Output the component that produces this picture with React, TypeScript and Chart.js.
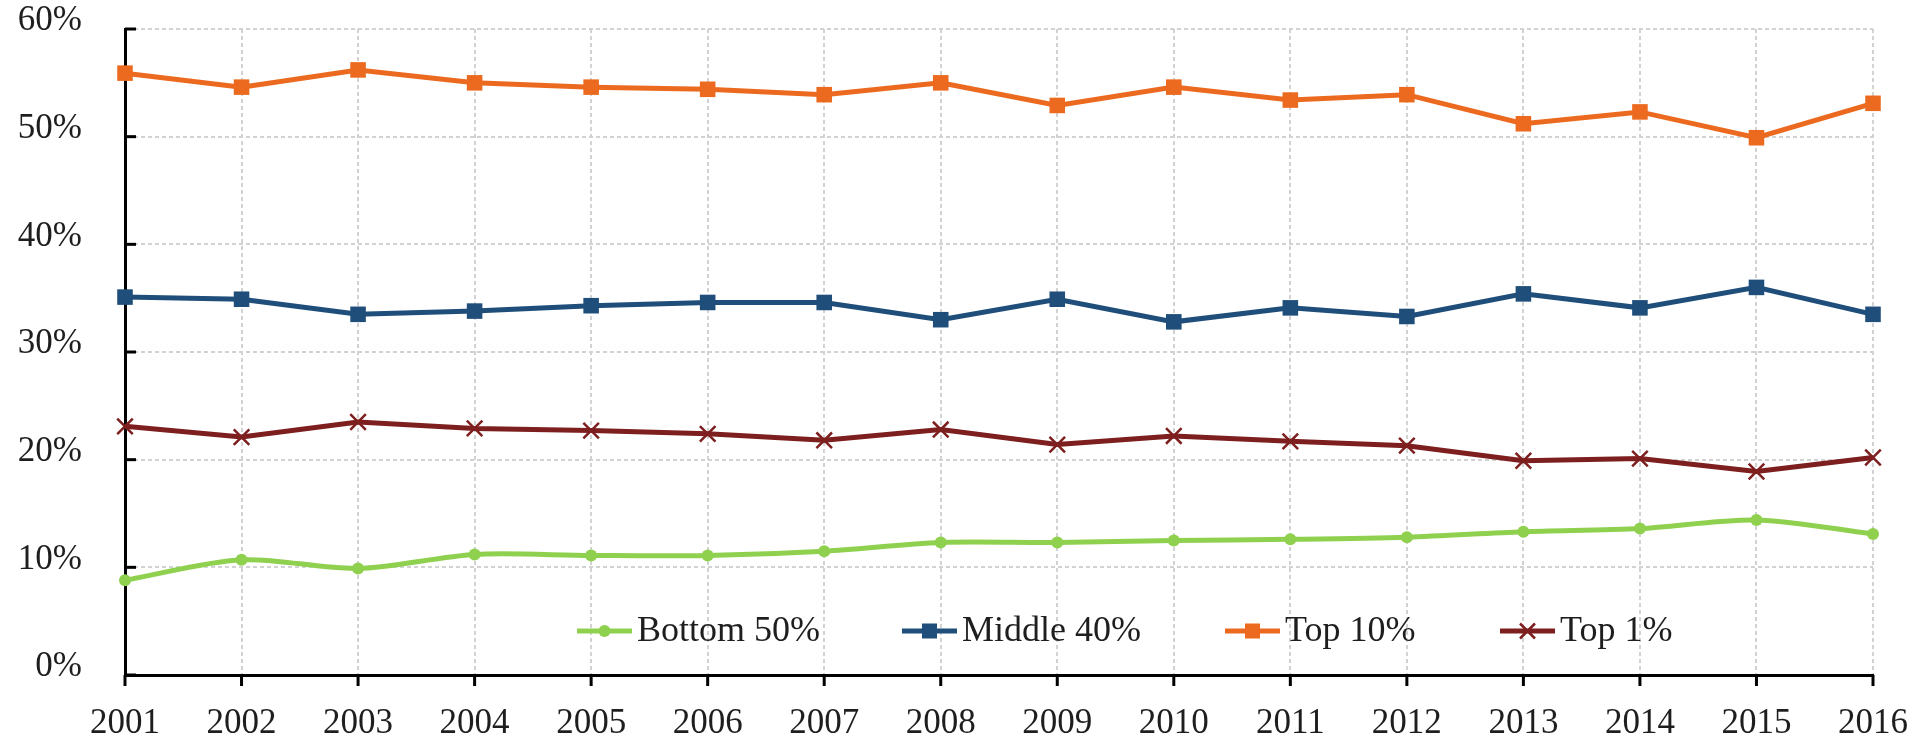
import React, { useEffect, useRef } from "react";
import { Chart, registerables } from "chart.js";

Chart.register(...registerables);

const years = ["2001", "2002", "2003", "2004", "2005", "2006", "2007", "2008", "2009", "2010", "2011", "2012", "2013", "2014", "2015", "2016"];
const bottom50 = [8.8, 10.7, 9.9, 11.2, 11.1, 11.1, 11.5, 12.3, 12.3, 12.5, 12.6, 12.8, 13.3, 13.6, 14.4, 13.1];
const middle40 = [35.1, 34.9, 33.5, 33.8, 34.3, 34.6, 34.6, 33.0, 34.9, 32.8, 34.1, 33.3, 35.4, 34.1, 36.0, 33.5];
const top10 = [55.9, 54.6, 56.2, 55.0, 54.6, 54.4, 53.9, 55.0, 52.9, 54.6, 53.4, 53.9, 51.2, 52.3, 49.9, 53.1];
const top1 = [23.1, 22.1, 23.5, 22.9, 22.7, 22.4, 21.8, 22.8, 21.4, 22.2, 21.7, 21.3, 19.9, 20.1, 18.9, 20.2];
const seriesLabels = ["Bottom 50%", "Middle 40%", "Top 10%", "Top 1%"];
const yTickValues = [0, 10, 20, 30, 40, 50, 60];

const FONT = "'Liberation Serif', 'Times New Roman', serif";
const TEXT = "#1e1e1e";
const GREEN = "#8fd14f";
const BLUE = "#1f4e7a";
const ORANGE = "#ec6a1f";
const RED = "#7e1f1f";

// legend item start offsets from the left edge of the plot area
const LEGEND_OFFSETS = [452, 777, 1100, 1375];

function drawMarker(ctx: CanvasRenderingContext2D, style: string, color: string, x: number, y: number) {
  ctx.save();
  ctx.fillStyle = color;
  ctx.strokeStyle = color;
  if (style === "circle") {
    ctx.beginPath();
    ctx.arc(x, y, 6, 0, Math.PI * 2);
    ctx.fill();
  } else if (style === "rect") {
    ctx.fillRect(x - 7.5, y - 7.5, 15, 15);
  } else if (style === "crossRot") {
    ctx.lineWidth = 2.5;
    const d = 7.5;
    ctx.beginPath();
    ctx.moveTo(x - d, y - d);
    ctx.lineTo(x + d, y + d);
    ctx.moveTo(x + d, y - d);
    ctx.lineTo(x - d, y + d);
    ctx.stroke();
  }
  ctx.restore();
}

const axisExtras = {
  id: "axisExtras",
  afterDatasetsDraw(chart: any) {
    const { ctx, chartArea, scales } = chart;
    ctx.save();
    ctx.setLineDash([]);
    ctx.strokeStyle = "#000";
    ctx.lineWidth = 3;
    for (const v of yTickValues) {
      const y = scales.y.getPixelForValue(v);
      ctx.beginPath();
      ctx.moveTo(chartArea.left, y);
      ctx.lineTo(chartArea.left + 11, y);
      ctx.stroke();
    }
    years.forEach((_, i) => {
      const x = scales.x.getPixelForValue(i);
      ctx.beginPath();
      ctx.moveTo(x, chartArea.bottom);
      ctx.lineTo(x, chartArea.bottom + 11);
      ctx.stroke();
    });
    ctx.restore();
  },
};

const insideLegend = {
  id: "insideLegend",
  afterDraw(chart: any) {
    const { ctx, chartArea } = chart;
    const y = chartArea.bottom - 44;
    ctx.save();
    ctx.font = `36px ${FONT}`;
    ctx.textBaseline = "middle";
    ctx.textAlign = "left";
    chart.data.datasets.forEach((ds: any, i: number) => {
      const x = chartArea.left + LEGEND_OFFSETS[i];
      ctx.setLineDash([]);
      ctx.strokeStyle = ds.borderColor;
      ctx.lineWidth = 5;
      ctx.beginPath();
      ctx.moveTo(x, y);
      ctx.lineTo(x + 55, y);
      ctx.stroke();
      drawMarker(ctx, ds.pointStyle, ds.borderColor, x + 27.5, y);
      ctx.fillStyle = TEXT;
      ctx.fillText(ds.label, x + 60, y + 1);
    });
    ctx.restore();
  },
};

export default function App() {
  const canvasRef = useRef<HTMLCanvasElement | null>(null);

  useEffect(() => {
    document.body.style.margin = "0";
    document.body.style.overflow = "hidden";
    const canvas = canvasRef.current;
    if (!canvas) return;
    const chart = new Chart(canvas, {
      type: "line",
      data: {
        labels: years,
        datasets: [
          {
            label: seriesLabels[0],
            data: bottom50,
            borderColor: GREEN,
            backgroundColor: GREEN,
            borderWidth: 5,
            pointStyle: "circle",
            pointRadius: 6,
            pointBorderWidth: 0,
            tension: 0.3,
            clip: false,
          },
          {
            label: seriesLabels[1],
            data: middle40,
            borderColor: BLUE,
            backgroundColor: BLUE,
            borderWidth: 5,
            pointStyle: "rect",
            pointRadius: 11,
            pointBorderWidth: 0,
            tension: 0,
            clip: false,
          },
          {
            label: seriesLabels[2],
            data: top10,
            borderColor: ORANGE,
            backgroundColor: ORANGE,
            borderWidth: 5,
            pointStyle: "rect",
            pointRadius: 11,
            pointBorderWidth: 0,
            tension: 0,
            clip: false,
          },
          {
            label: seriesLabels[3],
            data: top1,
            borderColor: RED,
            backgroundColor: RED,
            borderWidth: 5,
            pointStyle: "crossRot",
            pointRadius: 11,
            pointBorderWidth: 2.5,
            tension: 0,
            clip: false,
          },
        ] as any,
      },
      options: {
        animation: false,
        responsive: false,
        maintainAspectRatio: false,
        layout: { autoPadding: false, padding: { left: 0, right: 51, top: 29, bottom: 0 } },
        plugins: {
          legend: { display: false },
          tooltip: { enabled: false },
          title: { display: false },
        },
        scales: {
          x: {
            type: "category",
            offset: false,
            grid: {
              display: true,
              color: "#d2d2d2",
              lineWidth: 2,
              drawTicks: false,
            },
            border: { display: true, color: "#000", width: 3, dash: [4, 3] },
            ticks: {
              color: TEXT,
              font: { family: FONT, size: 35 },
              padding: 28,
              maxRotation: 0,
              autoSkip: false,
            },
            afterFit: (scale: any) => {
              scale.height = 66;
              scale.paddingLeft = 0;
              scale.paddingRight = 0;
            },
          },
          y: {
            min: 0,
            max: 60,
            grid: {
              display: true,
              color: "#d2d2d2",
              lineWidth: 2,
              drawTicks: false,
            },
            border: { display: true, color: "#000", width: 3, dash: [4, 3] },
            ticks: {
              stepSize: 10,
              color: TEXT,
              font: { family: FONT, size: 35 },
              padding: 43,
              labelOffset: -8,
              callback: (v: any) => `${v}%`,
            },
            afterFit: (scale: any) => {
              scale.width = 125;
              scale.paddingTop = 0;
              scale.paddingBottom = 0;
            },
          },
        },
      } as any,
      plugins: [axisExtras, insideLegend],
    });
    return () => chart.destroy();
  }, []);

  return (
    <div style={{ width: 1924, height: 741, background: "#fff" }}>
      <canvas ref={canvasRef} width={1924} height={741} style={{ display: "block" }} />
    </div>
  );
}
